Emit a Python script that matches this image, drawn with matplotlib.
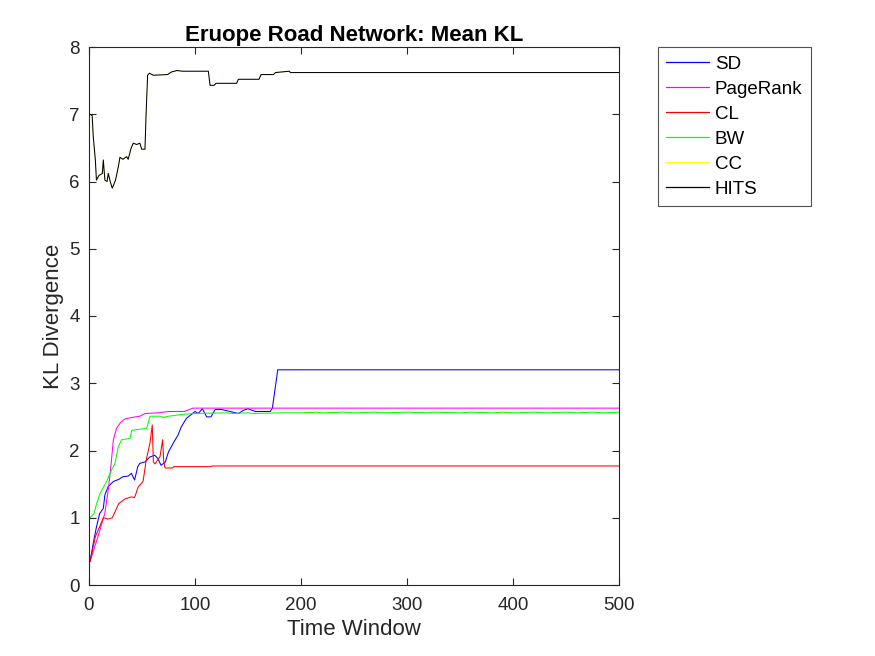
import matplotlib
matplotlib.use("Agg")
import matplotlib.pyplot as plt

plt.rcParams['font.family'] = ['Liberation Sans', 'DejaVu Sans']

# SD (blue)
sd_x = [1, 4, 7, 10, 13.5, 15, 18, 23, 28, 32, 37, 40, 43, 46, 48, 53, 57, 62, 65, 68, 72, 75, 79.5, 84, 87, 92, 97, 100, 103, 107,
        111, 115, 119, 125, 133, 141, 146, 150, 157, 165, 171, 173, 177, 178, 500]
sd_y = [0.35, 0.62, 0.86, 1.06, 1.14, 1.34, 1.46, 1.54, 1.57, 1.61, 1.62, 1.66, 1.56, 1.76, 1.81, 1.83, 1.90, 1.93, 1.88, 1.78,
        1.83, 1.98, 2.11, 2.23, 2.35, 2.48, 2.54, 2.58, 2.55, 2.62,
        2.50, 2.50, 2.61, 2.61, 2.58, 2.55, 2.60, 2.62, 2.58, 2.58, 2.58, 2.63, 3.08, 3.20, 3.20]

# PageRank (magenta)
pr_x = [1, 5, 10, 15, 18, 20, 23, 26, 30, 34, 40, 48, 53, 65, 75, 90, 98, 500]
pr_y = [0.35, 0.55, 0.80, 1.07, 1.40, 1.66, 2.16, 2.33, 2.42, 2.47, 2.49, 2.51, 2.55, 2.56, 2.58, 2.58, 2.63, 2.63]

# CL (red)
cl_x = [1, 6, 12, 13.5, 18, 22, 28, 34, 40, 43, 46.5, 51, 54, 57.5, 59.7, 60.7, 62.3, 67, 69.5, 70.4, 71.7, 79, 80, 115, 116, 500]
cl_y = [0.35, 0.72, 0.94, 1.00, 0.98, 1.00, 1.21, 1.28, 1.31, 1.30, 1.46, 1.54, 1.86, 2.11, 2.38, 1.83, 1.80, 1.91, 2.16, 1.86,
        1.74, 1.74, 1.76, 1.76, 1.77, 1.77]

# BW (green)
bw_x = [1, 4.7, 7, 10.4, 16.7, 19.8, 24.5, 27.7, 30.8, 38.7, 40.3, 54.4, 57.5, 68, 70, 75, 90, 100, 130, 135, 150, 155,
        180, 200, 215, 220, 240, 250, 270, 275, 300, 320, 325, 350, 360, 380, 390, 400, 420, 430, 450, 460, 475, 485, 500]
bw_y = [1.00, 1.06, 1.20, 1.36, 1.54, 1.66, 1.81, 2.06, 2.16, 2.18, 2.30, 2.33, 2.51, 2.51, 2.49, 2.51, 2.54, 2.55, 2.56, 2.55,
        2.56, 2.55, 2.56, 2.56, 2.57, 2.56, 2.57, 2.56, 2.57, 2.56, 2.57, 2.56, 2.57, 2.56, 2.57, 2.56, 2.57, 2.56,
        2.57, 2.56, 2.57, 2.56, 2.57, 2.56, 2.57]

# HITS (black)
hits_x = [1, 3, 4, 6, 7, 9.4, 12.6, 13.5, 15, 17, 18.2, 20, 22, 25, 27.7, 29.2, 32, 35.5, 37, 39.6, 41.8, 45, 48, 49.7, 52.8,
          53.8, 55.3, 57, 60.7, 74, 78, 83, 88, 112.6, 114.2, 118, 119.8, 139.3, 140.9, 160.4, 162.3, 174, 176, 189, 190, 500]
hits_y = [7.00, 6.98, 6.67, 6.32, 6.02, 6.09, 6.12, 6.32, 6.02, 6.00, 6.12, 6.00, 5.90, 6.02, 6.22, 6.36, 6.33, 6.37, 6.33,
          6.49, 6.57, 6.55, 6.57, 6.48, 6.48, 6.98, 7.58, 7.61, 7.58, 7.59, 7.63, 7.65, 7.64, 7.64, 7.43, 7.43, 7.46,
          7.46, 7.52, 7.52, 7.59, 7.59, 7.62, 7.64, 7.62, 7.62]

# CC (yellow) - coincides with HITS, hidden beneath it
cc_x = hits_x
cc_y = hits_y

labels = ['SD', 'PageRank', 'CL', 'BW', 'CC', 'HITS']
colors = ['#0000ff', '#ff00ff', '#ff0000', '#00ff00', '#ffff00', '#000000']
xticks = [0, 100, 200, 300, 400, 500]
yticks = [0, 1, 2, 3, 4, 5, 6, 7, 8]

fig = plt.figure(figsize=(8.75, 6.56), dpi=100)
ax = fig.add_axes([89/875, 1 - 585/656, (619-89)/875, (585-47)/656])

series = [(sd_x, sd_y), (pr_x, pr_y), (cl_x, cl_y), (bw_x, bw_y), (cc_x, cc_y), (hits_x, hits_y)]
for (xs, ys), lab, col in zip(series, labels, colors):
    lw = 0.3 if lab == 'CC' else 0.75
    ax.plot(xs, ys, color=col, lw=lw, label=lab)

ax.set_xlim(0, 500)
ax.set_ylim(0, 8)
ax.set_xticks(xticks)
ax.set_yticks(yticks)
dark = '#262626'
ax.tick_params(direction='in', length=5, width=0.8, top=True, right=True, labelsize=13.5,
               colors=dark)
ax.tick_params(axis='x', pad=9)
ax.tick_params(axis='y', pad=6.5)
for s in ax.spines.values():
    s.set_color(dark)
    s.set_linewidth(0.8)

ax.set_title('Eruope Road Network: Mean KL', fontsize=16, fontweight='bold', color='black', pad=4)
ax.set_xlabel('Time Window', fontsize=16, color=dark, labelpad=3)
ax.set_ylabel('KL Divergence', fontsize=16, color=dark, labelpad=4)

leg = ax.legend(loc='upper left', bbox_to_anchor=(657.5/875, 1 - 47/656), bbox_transform=fig.transFigure,
                fontsize=13.5, frameon=True, fancybox=False, handlelength=2.3, handletextpad=0.3,
                labelspacing=0.42, borderpad=0.45, borderaxespad=0)
leg.get_frame().set_edgecolor(dark)
leg.get_frame().set_linewidth(0.8)
for ln in leg.get_lines():
    ln.set_linewidth(0.9)
for t in leg.get_texts():
    t.set_color('black')

fig.savefig('out.png', dpi=100)
